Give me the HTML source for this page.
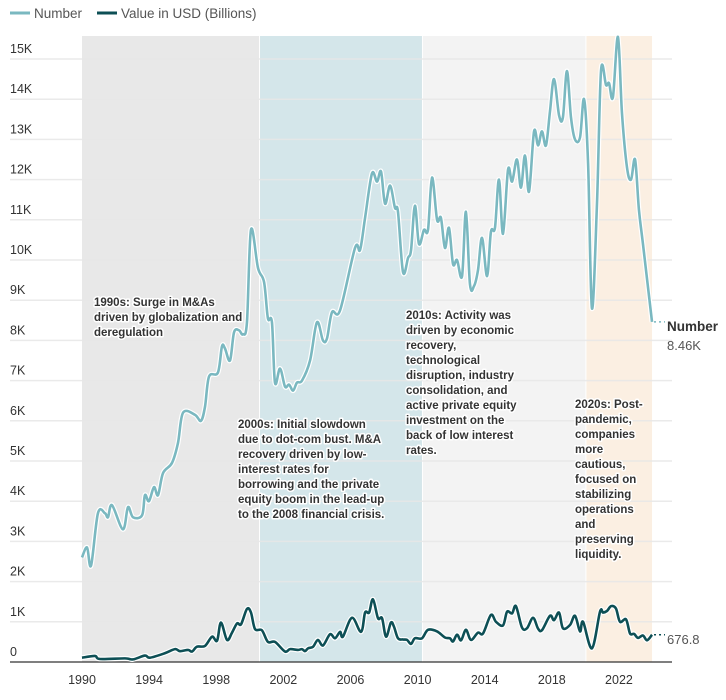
<!DOCTYPE html>
<html><head><meta charset="utf-8"><style>
body{margin:0;background:#fff;width:726px;height:695px;overflow:hidden;font-family:"Liberation Sans",sans-serif}
svg text{font-family:"Liberation Sans",sans-serif}
.ann{font-size:11.5px;font-weight:bold;fill:#333;stroke:#fff;stroke-width:3px;paint-order:stroke;stroke-linejoin:round}
.tick{font-size:12.5px;fill:#333}
</style></head><body>
<svg id="chart" width="726" height="695" xmlns="http://www.w3.org/2000/svg">
<g>
  <line x1="10" y1="13" x2="30" y2="13" stroke="#7ab8c0" stroke-width="3"/>
  <text x="34" y="18" font-size="13.5" fill="#555">Number</text>
  <line x1="97" y1="13" x2="117" y2="13" stroke="#0d4f55" stroke-width="3"/>
  <text x="121" y="18" font-size="13.5" fill="#555">Value in USD (Billions)</text>
</g>
<g id="regions"></g>
<g id="grid"></g>
<g id="series"></g>
<g id="labels"></g>
</svg>
<script>
const numYears=[1990,1990.30,1990.54,1990.95,1991.37,1991.55,1991.79,1992.44,1992.74,1993.04,1993.58,1993.75,1993.99,1994.29,1994.53,1994.83,1995.36,1995.72,1996.02,1996.73,1997.09,1997.33,1997.57,1998.10,1998.34,1998.52,1998.82,1999.06,1999.36,1999.59,1999.83,2000.07,2000.49,2000.85,2001.08,2001.32,2001.50,2001.80,2002.10,2002.34,2002.58,2002.81,2003.11,2003.59,2004.00,2004.36,2004.60,2004.90,2005.38,2006.27,2006.57,2006.87,2007.28,2007.58,2007.82,2008.06,2008.36,2008.65,2008.83,2009.13,2009.43,2009.61,2009.84,2010.08,2010.38,2010.62,2010.86,2011.16,2011.39,2011.63,2011.87,2012.11,2012.35,2012.65,2012.88,2013.12,2013.36,2013.60,2013.84,2014.14,2014.37,2014.61,2014.85,2015.09,2015.39,2015.63,2015.92,2016.16,2016.40,2016.64,2016.94,2017.18,2017.41,2017.65,2017.89,2018.13,2018.43,2018.66,2018.90,2019.14,2019.38,2019.68,2019.92,2020.16,2020.39,2020.69,2020.93,2021.23,2021.41,2021.64,2021.94,2022.18,2022.48,2022.72,2022.96,2023.19,2023.43,2023.97];
const numValues=[2600,2850,2400,3700,3700,3600,3900,3300,3850,3600,3650,4150,4000,4350,4150,4700,4950,5450,6200,6150,6000,6350,7100,7200,7850,7800,7500,8200,8250,8150,8450,10750,9800,9450,8550,8450,6950,7300,6850,6900,6750,6950,7000,7500,8450,8000,8050,8700,8750,10300,10250,11050,12150,11950,12200,11400,11850,11300,11200,9700,10050,10250,11350,10400,10750,10750,12050,11000,11050,10300,10800,9900,10000,9600,11200,9400,9350,9750,10550,9600,10700,10800,12000,10650,12250,11950,12500,11800,12600,11700,13200,12850,13200,12850,13700,14500,13600,13550,14700,13550,13000,13050,14000,12400,8800,11400,14700,14350,14400,14050,15550,13650,12300,12000,12500,11250,10400,8460];
const valYears=[1990,1990.77,1991.07,1992.56,1993.04,1993.75,1994.05,1994.95,1995.54,1995.84,1996.32,1996.56,1996.85,1997.33,1997.75,1998.05,1998.28,1998.64,1998.94,1999.24,1999.48,1999.83,2000.07,2000.31,2000.72,2001.08,2001.50,2002.10,2002.40,2002.87,2003.11,2003.29,2003.47,2003.77,2004.06,2004.36,2004.78,2005.08,2005.38,2005.55,2006.09,2006.63,2006.87,2007.11,2007.34,2007.64,2007.88,2008.12,2008.41,2008.59,2008.83,2009.13,2009.37,2009.61,2009.84,2010.26,2010.62,2011.16,2011.63,2011.93,2012.11,2012.35,2012.59,2012.88,2013.18,2013.60,2013.90,2014.37,2014.67,2015.09,2015.33,2015.63,2015.86,2016.22,2016.52,2016.88,2017.18,2017.41,2017.89,2018.13,2018.43,2018.66,2019.08,2019.38,2019.68,2019.86,2020.39,2020.87,2021.05,2021.29,2021.53,2021.82,2022.06,2022.42,2022.66,2022.90,2023.13,2023.43,2023.67,2023.97];
const valValues=[107,150,75,90,65,160,107,220,320,270,300,260,380,400,630,530,980,550,730,960,940,1320,1230,820,790,500,500,260,320,300,320,270,340,380,550,410,690,590,750,630,1100,750,1230,1230,1560,1090,1090,630,980,880,590,560,550,450,590,590,800,760,610,590,510,680,540,800,550,730,710,1170,1000,910,1250,1210,1390,860,840,1100,830,790,1150,1040,1230,840,920,1150,760,1000,340,1250,1230,1270,1390,1330,1000,1060,710,700,600,660,540,677];
const yTicks=[0,1000,2000,3000,4000,5000,6000,7000,8000,9000,10000,11000,12000,13000,14000,15000];
const yTickLabels=["0","1K","2K","3K","4K","5K","6K","7K","8K","9K","10K","11K","12K","13K","14K","15K"];
const xTicks=[1990,1994,1998,2002,2006,2010,2014,2018,2022];
const regionStarts=[1990,2000.55,2010.26,2020];
const regionEnds=[2000.55,2010.26,2020,2023.97];
const regionColors=["#e8e8e8","#d4e6ea","#f3f3f3","#fbefe2"];
const regionNames=["region-1990s","region-2000s","region-2010s","region-2020s"];

const NS="http://www.w3.org/2000/svg";
const X=t=>82+(t-1990)*16.78;
const Y=v=>662-v*0.0402;
function mk(tag,attrs,parent){const e=document.createElementNS(NS,tag);for(const k in attrs)e.setAttribute(k,attrs[k]);parent.appendChild(e);return e;}
const reg=document.getElementById('regions'),grid=document.getElementById('grid'),ser=document.getElementById('series'),lab=document.getElementById('labels');
regionStarts.forEach((s,i)=>{
  const r=mk('rect',{x:X(s)+(i?1:0),y:36,width:X(regionEnds[i])-X(s)-(i?1:0),height:626,fill:regionColors[i]},reg);
  
  
});
yTicks.forEach((v,i)=>{
  if(v>0){const l=mk('line',{x1:10,x2:672,y1:Y(v),y2:Y(v),stroke:'#e6e6e6','stroke-width':1.5,'stroke-opacity':0.85},grid);
  
  }
  const t=mk('text',{x:10,y:Y(v)-6,class:'tick'},grid);t.textContent=yTickLabels[i];
  
  
});
const ax=mk('line',{x1:10,x2:672,y1:662,y2:662,stroke:'#333','stroke-width':1.2},grid);


xTicks.forEach(y=>{const t=mk('text',{x:X(y),y:684,'text-anchor':'middle',class:'tick'},grid);t.textContent=y;
  
  });
function smooth(xs,vs){const p=xs.map((x,i)=>[X(x),Y(vs[i])]);let d=`M${p[0][0]},${p[0][1]}`;
  for(let i=0;i<p.length-1;i++){const p0=p[i-1]||p[i],p1=p[i],p2=p[i+1],p3=p[i+2]||p2;
    const c1=[p1[0]+(p2[0]-p0[0])/6,p1[1]+(p2[1]-p0[1])/6],c2=[p2[0]-(p3[0]-p1[0])/6,p2[1]-(p3[1]-p1[1])/6];
    d+=`C${c1[0]},${c1[1]} ${c2[0]},${c2[1]} ${p2[0]},${p2[1]}`;}return d;}
const dn=smooth(numYears,numValues);
const h1=mk('path',{d:dn,fill:'none',stroke:'#fff','stroke-width':5,'stroke-linejoin':'round'},ser);


const l1=mk('path',{d:dn,fill:'none',stroke:'#7ab8c0','stroke-width':2.6,'stroke-linejoin':'round'},ser);


const dv=smooth(valYears,valValues);
const h2=mk('path',{d:dv,fill:'none',stroke:'#fff','stroke-width':5,'stroke-linejoin':'round'},ser);


const l2=mk('path',{d:dv,fill:'none',stroke:'#0d4f55','stroke-width':2.6,'stroke-linejoin':'round'},ser);


const nl=numValues[numValues.length-1],vl=valValues[valValues.length-1];
const d1=mk('line',{x1:X(2023.97)+2,x2:665,y1:Y(nl),y2:Y(nl),stroke:'#7ab8c0','stroke-width':1.5,'stroke-dasharray':'2,3'},lab);


const d2=mk('line',{x1:X(2023.97)+2,x2:665,y1:Y(vl),y2:Y(vl),stroke:'#0d4f55','stroke-width':1.5,'stroke-dasharray':'2,3'},lab);


const t1=mk('text',{x:667,y:Y(nl)+9,'font-size':13.5,'font-weight':'bold',fill:'#333'},lab);t1.textContent='Number';


const t2=mk('text',{x:667,y:Y(nl)+28,'font-size':13,fill:'#555'},lab);t2.textContent=(nl/1000).toFixed(2)+'K';


const t3=mk('text',{x:667,y:Y(vl)+9,'font-size':13,fill:'#555'},lab);t3.textContent='676.8';


const anns=[
 {x:94,y:306,name:'annotation-1990s',lines:["1990s: Surge in M&As","driven by globalization and","deregulation"]},
 {x:238,y:428,name:'annotation-2000s',lines:["2000s: Initial slowdown","due to dot-com bust. M&A","recovery driven by low-","interest rates for","borrowing and the private","equity boom in the lead-up","to the 2008 financial crisis."]},
 {x:406,y:319,name:'annotation-2010s',lines:["2010s: Activity was","driven by economic","recovery,","technological","disruption, industry","consolidation, and","active private equity","investment on the","back of low interest","rates."]},
 {x:575,y:408,name:'annotation-2020s',lines:["2020s: Post-","pandemic,","companies","more","cautious,","focused on","stabilizing","operations","and","preserving","liquidity."]}
];
anns.forEach(a=>{const t=mk('text',{x:a.x,y:a.y,class:'ann'},lab);
 
 
 a.lines.forEach((s,i)=>{const ts=mk('tspan',{x:a.x,y:a.y+i*15},t);ts.textContent=s;});});
</script>
</body></html>
